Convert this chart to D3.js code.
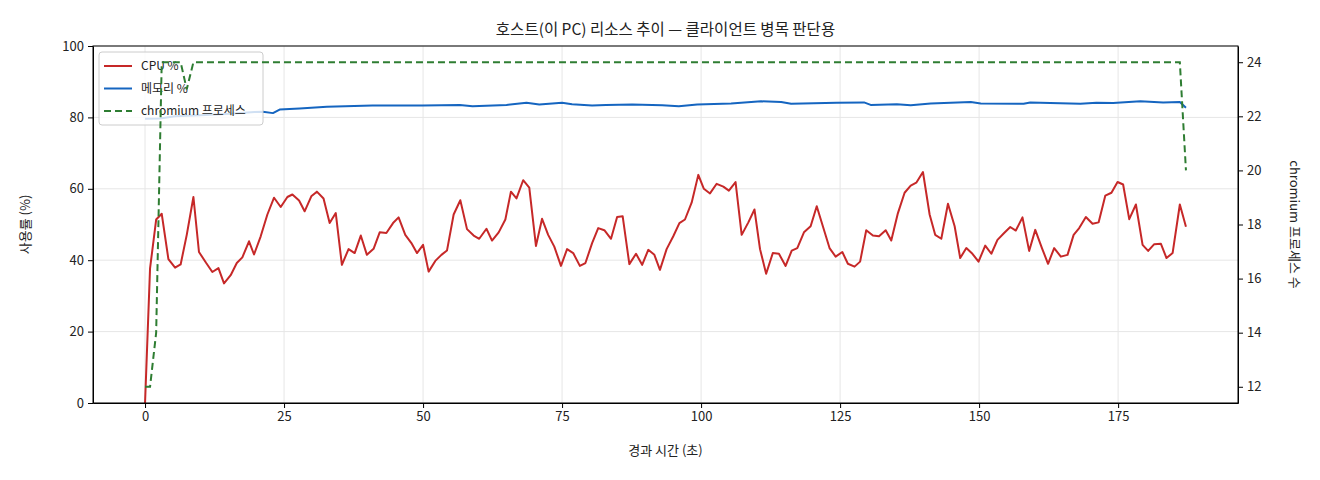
<!DOCTYPE html>
<html>
<head>
<meta charset="utf-8">
<script src="https://d3js.org/d3.v7.min.js"></script>
<style>
  body { margin: 0; background: #fff; }
  svg text { font-family: "Noto Sans CJK KR", "Noto Sans", sans-serif; fill: #222; }
  .grid line { stroke: #e6e6e6; stroke-width: 1; }
  .axis path, .axis line { stroke: #000; }
  .axis text { font-size: 13px; }
</style>
</head>
<body>
<svg id="chart" width="1320" height="480"></svg>
<script>
// elapsed time (s) of each sample and CPU %
var times = [0,0.9,2.0,3.0,4.2,5.4,6.4,7.5,8.7,9.7,11.0,12.1,13.2,14.2,15.4,16.5,17.5,18.7,19.6,20.8,
  22.0,23.2,24.4,25.6,26.5,27.7,28.7,29.9,30.9,32.1,33.2,34.3,35.4,36.6,37.7,38.8,39.9,41.1,42.2,43.4,
  44.6,45.6,46.8,47.9,48.9,50.0,51.0,52.2,53.3,54.3,55.5,56.7,57.9,59.1,60.1,61.4,62.4,63.6,64.8,65.8,
  66.8,68.0,69.1,70.3,71.4,72.5,73.6,74.8,75.9,77.0,78.2,79.2,80.4,81.5,82.6,83.8,84.9,85.9,87.1,88.3,
  89.4,90.5,91.6,92.6,93.8,95.0,96.1,97.1,98.3,99.5,100.5,101.6,102.8,104.0,105.0,106.2,107.3,108.5,109.6,110.6,
  111.7,112.9,114.0,115.2,116.3,117.3,118.5,119.7,120.8,121.9,123.1,124.2,125.4,126.4,127.6,128.6,129.7,130.9,132.0,133.2,
  134.2,135.4,136.6,137.7,138.7,139.9,141.1,142.1,143.2,144.4,145.6,146.6,147.7,148.8,149.9,151.1,152.2,153.3,154.5,155.6,
  156.6,157.8,159.0,160.1,161.3,162.4,163.5,164.7,165.9,167.0,168.0,169.2,170.4,171.5,172.7,173.8,174.9,175.9,177.0,178.2,
  179.4,180.4,181.5,182.7,183.7,184.8,186.1,187.2];
var cpu = [0,37.7,51.4,53.0,40.3,37.9,38.8,47.1,57.7,42.3,39.2,36.7,37.8,33.5,35.8,39.2,40.8,45.3,41.6,46.7,
  52.8,57.5,54.9,57.7,58.4,56.7,53.7,57.9,59.2,57.3,50.4,53.2,38.7,43.1,42.0,46.9,41.5,43.2,47.8,47.6,
  50.4,52.0,47.1,44.8,42.0,44.3,36.8,39.8,41.5,42.7,52.8,56.8,48.7,46.9,46.0,48.8,45.5,47.8,51.4,59.2,
  57.3,62.4,60.3,44.0,51.6,47.1,43.8,38.4,43.1,42.0,38.4,39.2,44.8,49.0,48.4,46.0,52.1,52.3,38.9,41.8,
  38.7,42.9,41.5,37.3,43.1,46.7,50.4,51.4,56.1,63.9,60.0,58.7,61.4,60.6,59.5,61.9,47.1,50.6,54.2,43.1,
  36.2,42.0,41.8,38.4,42.7,43.4,47.8,49.5,55.1,49.5,43.4,41.0,42.3,39.0,38.2,39.6,48.4,46.9,46.7,48.4,
  45.5,53.2,58.9,60.9,61.7,64.7,52.8,47.1,46.0,55.8,49.5,40.6,43.4,41.8,39.6,44.1,41.8,45.7,47.6,49.3,
  48.3,52.0,42.6,48.5,43.4,39.0,43.4,41.0,41.5,47.1,49.0,52.1,50.2,50.6,58.1,58.9,61.9,61.2,51.5,55.6,
  44.3,42.6,44.5,44.6,40.6,42.0,55.6,49.4];

// memory % read at its turning points
var memTimes = [0,2.7,5.4,9.9,15.3,19.7,21.2,23.0,24.2,27.8,32.7,40.9,49.9,56.6,58.9,65.0,68.6,70.9,75.0,76.8,
  80.4,82.9,87.6,93.0,96.0,99.3,105.4,110.8,114.4,116.2,124.4,129.3,130.5,135.2,137.7,141.3,148.5,150.3,158.0,159.2,
  168.2,171.1,174.1,179.0,183.1,186.1,187.2];
var mem = [79.6,79.7,80.3,80.6,81.0,81.5,81.6,81.2,82.2,82.5,83.0,83.3,83.3,83.5,83.1,83.5,84.1,83.6,84.1,83.7,
  83.3,83.5,83.6,83.4,83.1,83.6,83.9,84.5,84.3,83.8,84.1,84.2,83.5,83.7,83.4,83.9,84.3,83.9,83.8,84.2,
  83.8,84.1,84.0,84.5,84.2,84.3,82.7];

// chromium process count at the points where it changes
var procTimes = [0,0.9,2.0,3.0,6.4,7.5,8.7,186.1,187.2];
var procs = [12,12,14,24,24,23,24,24,20];

var xTicks = [0,25,50,75,100,125,150,175];
var yTicks = [0,20,40,60,80,100];
var y2Ticks = [12,14,16,18,20,22,24];

var legendItems = [
  {label: "CPU %", color: "#c62828", dash: null},
  {label: "메모리 %", color: "#1565c0", dash: null},
  {label: "chromium 프로세스", color: "#2e7d32", dash: "7,4"}
];

var margin = {top: 46, right: 82, bottom: 77, left: 93},
    width = 1320 - margin.left - margin.right,
    height = 480 - margin.top - margin.bottom;

var svg = d3.select("#chart");
var g = svg.append("g").attr("transform", "translate(" + margin.left + "," + margin.top + ")");

var tMin = d3.min(times), tMax = d3.max(times), pad = (tMax - tMin) * 0.05;
var x = d3.scaleLinear().domain([tMin - pad, tMax + pad]).range([0, width]);
var y = d3.scaleLinear().domain([0, 100]).range([height, 0]);
var pMin = d3.min(procs), pMax = d3.max(procs), pPad = (pMax - pMin) * 0.05;
var y2 = d3.scaleLinear().domain([pMin - pPad, pMax + pPad]).range([height, 0]);

// grid
g.append("g").attr("class", "grid")
  .selectAll("line.v").data(xTicks).enter().append("line")
  .attr("x1", function(d){ return x(d); }).attr("x2", function(d){ return x(d); })
  .attr("y1", 0).attr("y2", height);
g.append("g").attr("class", "grid")
  .selectAll("line.h").data(yTicks).enter().append("line")
  .attr("x1", 0).attr("x2", width)
  .attr("y1", function(d){ return y(d); }).attr("y2", function(d){ return y(d); });

var cpuLine = d3.line().x(function(d, i){ return x(times[i]); }).y(function(d){ return y(d); });
var memLine = d3.line().x(function(d, i){ return x(memTimes[i]); }).y(function(d){ return y(d); });
var procLine = d3.line().x(function(d, i){ return x(procTimes[i]); }).y(function(d){ return y2(d); });

g.append("path").datum(cpu).attr("d", cpuLine)
  .attr("fill", "none").attr("stroke", legendItems[0].color).attr("stroke-width", 2)
  .attr("stroke-linejoin", "round");
g.append("path").datum(mem).attr("d", memLine)
  .attr("fill", "none").attr("stroke", legendItems[1].color).attr("stroke-width", 2)
  .attr("stroke-linejoin", "round");

// legend (under the twin axis line, like the original)
var lg = g.append("g").attr("transform", "translate(6,6)");
lg.append("rect").attr("width", 164).attr("height", 73).attr("rx", 3)
  .attr("fill", "#fff").attr("fill-opacity", 0.8).attr("stroke", "#ccc");
legendItems.forEach(function(it, i){
  var yy = 14 + i * 22.5;
  lg.append("line").attr("x1", 5).attr("x2", 33).attr("y1", yy).attr("y2", yy)
    .attr("stroke", it.color).attr("stroke-width", 2)
    .attr("stroke-dasharray", it.dash);
  lg.append("text").attr("x", 42).attr("y", yy + 4).attr("font-size", 12).text(it.label);
});

g.append("path").datum(procs).attr("d", procLine)
  .attr("fill", "none").attr("stroke", legendItems[2].color).attr("stroke-width", 2)
  .attr("stroke-dasharray", "7,4");

// axes
g.append("g").attr("class", "axis").attr("transform", "translate(0," + height + ")")
  .call(d3.axisBottom(x).tickValues(xTicks).tickSize(5).tickPadding(4).tickSizeOuter(0));
g.append("g").attr("class", "axis")
  .call(d3.axisLeft(y).tickValues(yTicks).tickSize(5).tickPadding(4).tickSizeOuter(0));
g.append("g").attr("class", "axis").attr("transform", "translate(" + width + ",0)")
  .call(d3.axisRight(y2).tickValues(y2Ticks).tickSize(5).tickPadding(4).tickSizeOuter(0));
g.append("rect").attr("width", width).attr("height", height)
  .attr("fill", "none").attr("stroke", "#000").attr("stroke-width", 1);

// labels
svg.append("text").attr("x", margin.left + width / 2).attr("y", 35)
  .attr("text-anchor", "middle").attr("font-size", 15.5)
  .text("호스트(이 PC) 리소스 추이 — 클라이언트 병목 판단용");
svg.append("text").attr("x", margin.left + width / 2).attr("y", 455)
  .attr("text-anchor", "middle").attr("font-size", 13).text("경과 시간 (초)");
svg.append("text").attr("transform", "translate(30," + (margin.top + height / 2) + ") rotate(-90)")
  .attr("text-anchor", "middle").attr("font-size", 13).text("사용률 (%)");
svg.append("text").attr("transform", "translate(1290," + (margin.top + height / 2) + ") rotate(90)")
  .attr("text-anchor", "middle").attr("font-size", 13).text("chromium 프로세스 수");
</script>
</body>
</html>
